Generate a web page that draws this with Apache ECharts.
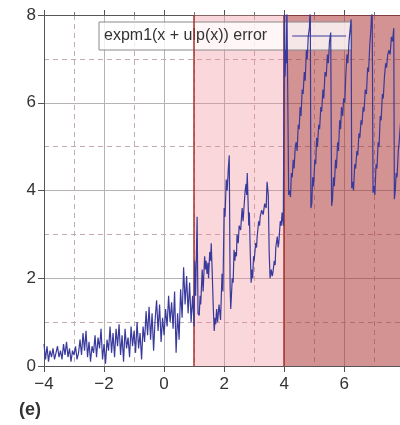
<!DOCTYPE html>
<html>
<head>
<meta charset="utf-8">
<script src="https://cdn.jsdelivr.net/npm/echarts@6/dist/echarts.min.js"></script>
<style>
  html, body { margin: 0; padding: 0; background: #fff; overflow: hidden; width: 400px; height: 425px; }
  #chart { width: 412px; height: 425px; }
</style>
</head>
<body>
<div id="chart"></div>
<script>
// error curve as [x, error] pairs
var lowPart = [
  [-4.00,0.50],[-3.95,0.15],[-3.90,0.45],[-3.85,0.10],[-3.80,0.35],[-3.75,0.20],[-3.70,0.40],[-3.65,0.15],
  [-3.60,0.30],[-3.55,0.45],[-3.50,0.20],[-3.45,0.35],[-3.40,0.15],[-3.35,0.50],[-3.30,0.25],[-3.25,0.55],
  [-3.20,0.20],[-3.15,0.40],[-3.10,0.10],[-3.05,0.35],[-3.00,0.25],[-2.95,0.45],[-2.90,0.15],[-2.85,0.30],
  [-2.80,0.60],[-2.75,0.25],[-2.70,0.75],[-2.65,0.35],[-2.60,0.80],[-2.55,0.20],[-2.50,0.55],[-2.45,0.10],
  [-2.40,0.45],[-2.35,0.30],[-2.30,0.70],[-2.25,0.20],[-2.20,0.65],[-2.15,0.40],[-2.10,0.85],[-2.05,0.15],
  [-2.00,0.50],[-1.95,0.05],[-1.90,0.60],[-1.85,0.35],[-1.80,0.90],[-1.75,0.30],[-1.70,0.75],[-1.65,0.20],
  [-1.60,0.85],[-1.55,0.45],[-1.50,0.95],[-1.45,0.25],[-1.40,0.70],[-1.35,0.10],[-1.30,0.85],[-1.25,0.40],
  [-1.20,0.65],[-1.15,0.20],[-1.10,0.90],[-1.05,0.45],[-1.00,0.80],[-0.95,0.30],[-0.90,1.00],[-0.85,0.40],
  [-0.80,0.75],[-0.75,0.15],[-0.70,0.90],[-0.65,0.55],[-0.60,1.25],[-0.55,0.70],[-0.50,1.35],[-0.45,0.60],
  [-0.40,1.20],[-0.35,0.35],[-0.30,1.05],[-0.25,1.50],[-0.20,0.80],[-0.15,1.40],[-0.10,0.55],[-0.05,1.10],
  [0.00,0.70],[0.05,1.30],[0.10,0.90],[0.15,1.60],[0.20,1.00],[0.25,1.45],[0.30,0.85],[0.35,1.70],
  [0.40,0.30],[0.45,1.20],[0.50,0.60],[0.55,1.75],[0.60,1.10],[0.65,2.25],[0.70,1.40],[0.75,2.05],
  [0.80,1.20],[0.85,1.90],[0.90,1.00],[0.95,1.60],[1.00,0.90]
];
var midPart = [
  [1.02,2.4],[1.05,1.6],[1.10,3.4],[1.13,1.2],[1.17,1.15],[1.20,1.6],[1.22,1.4],[1.27,2.2],[1.30,1.7],
  [1.35,2.5],[1.38,2.2],[1.40,2.4],[1.43,2.1],[1.46,2.35],[1.48,2.0],[1.52,2.6],[1.55,2.4],[1.57,2.8],
  [1.60,2.2],[1.64,1.3],[1.67,0.8],[1.70,1.1],[1.72,0.95],[1.75,1.3],[1.78,1.0],[1.83,1.4],[1.88,1.05],
  [1.93,2.1],[1.96,1.7],[2.00,3.6],[2.03,3.4],[2.07,4.25],[2.10,4.0],[2.14,4.5],[2.17,4.8],[2.20,1.8],
  [2.22,1.3],[2.25,1.7],[2.27,2.0],[2.30,1.9],[2.33,2.65],[2.36,2.4],[2.38,2.6],[2.41,2.5],[2.43,3.0],
  [2.47,2.8],[2.50,3.2],[2.55,3.1],[2.58,3.4],[2.60,3.6],[2.63,3.3],[2.65,3.5],[2.70,4.0],[2.73,4.15],
  [2.75,3.9],[2.77,4.4],[2.82,3.2],[2.84,3.5],[2.87,2.6],[2.90,1.9],[2.93,2.2],[2.95,2.0],[2.98,2.5],
  [3.00,2.4],[3.05,2.8],[3.08,2.7],[3.10,2.95],[3.15,3.3],[3.18,3.2],[3.20,3.4],[3.25,3.55],[3.30,3.45],
  [3.35,3.7],[3.40,3.6],[3.43,4.2],[3.47,3.9],[3.50,2.6],[3.53,2.0],[3.57,2.2],[3.60,2.05],[3.62,2.1],
  [3.67,2.4],[3.70,2.3],[3.72,2.7],[3.77,2.95],[3.80,2.7],[3.82,2.8],[3.87,3.3],[3.90,3.2],[3.93,3.5],
  [3.97,3.2],[4.00,3.2]
];
var highPart = [
  [4.01,8.3],[4.03,6.6],[4.05,7.2],[4.07,6.9],[4.09,8.3],[4.13,8.3],[4.15,3.9],[4.18,4.0],[4.21,3.85],
  [4.24,4.4],[4.27,4.3],[4.30,4.7],[4.33,4.5],[4.37,5.0],[4.40,5.1],[4.43,4.9],[4.47,5.5],[4.50,5.4],
  [4.53,5.9],[4.56,5.7],[4.60,6.3],[4.63,6.2],[4.67,6.7],[4.70,6.5],[4.74,7.2],[4.77,7.0],[4.80,7.5],
  [4.84,7.7],[4.87,8.3],[4.89,3.6],
  [4.92,3.7],[4.95,4.3],[4.98,4.1],[5.02,4.7],[5.05,4.6],[5.08,5.2],[5.11,5.0],[5.15,5.5],[5.18,5.4],
  [5.22,5.9],[5.25,5.8],[5.29,6.3],[5.32,6.1],[5.36,6.7],[5.40,6.6],[5.44,7.1],[5.47,6.9],[5.51,7.4],
  [5.55,7.6],[5.58,3.65],
  [5.61,3.8],[5.64,4.3],[5.67,4.1],[5.71,4.7],[5.74,4.5],[5.78,5.1],[5.81,4.9],[5.85,5.6],[5.88,5.4],
  [5.91,5.9],[5.95,5.7],[5.98,6.1],[6.02,6.0],[6.05,6.6],[6.09,7.1],[6.12,6.9],[6.16,7.4],[6.20,7.7],
  [6.23,7.9],[6.25,4.05],
  [6.28,4.2],[6.31,4.0],[6.35,4.6],[6.38,4.5],[6.42,4.9],[6.45,4.8],[6.49,5.3],[6.52,5.2],[6.56,5.6],
  [6.59,5.5],[6.63,5.9],[6.66,5.8],[6.70,6.3],[6.74,6.2],[6.78,6.8],[6.81,6.7],[6.85,7.3],[6.89,7.7],
  [6.93,8.3],[6.96,3.95],
  [6.99,4.1],[7.02,3.9],[7.06,4.6],[7.09,4.5],[7.13,5.1],[7.16,5.0],[7.20,5.7],[7.23,5.6],[7.27,6.2],
  [7.30,6.1],[7.34,6.6],[7.38,6.9],[7.41,6.8],[7.45,7.1],[7.49,7.2],[7.53,7.1],[7.57,7.5],[7.61,7.4],
  [7.65,7.7],[7.67,3.8],
  [7.70,4.0],[7.73,4.4],[7.76,4.3],[7.80,4.9],[7.83,5.1],[7.87,5.5],[7.90,5.7],[7.94,6.1],[7.97,6.0],
  [8.00,6.4]
];
var seriesName = 'expm1(x + ulp(x)) error';
var lightBand = [1, 4];
var darkBand = [4, 8];
var xRange = [-4, 8];
var yRange = [0, 8];

var chart = echarts.init(document.getElementById('chart'));
var font = 'Liberation Sans, Arial, sans-serif';
var minus = function (v) { return String(v).replace('-', '\u2212'); };

var option = {
  animation: false,
  title: {
    text: '(e)', left: 14, top: 396,
    textStyle: { fontFamily: font, fontSize: 18, fontWeight: 'bold', color: '#333' }
  },
  legend: {
    data: [seriesName],
    left: 99, top: 22,
    align: 'right',
    itemWidth: 54, itemHeight: 14,
    padding: [6, 5, 6, 5],
    backgroundColor: 'rgba(255,255,255,0.78)',
    borderColor: '#8a8a8a', borderWidth: 1, borderRadius: 0,
    itemStyle: { opacity: 0 },
    lineStyle: { color: '#3a3a9c', width: 1 },
    textStyle: { fontFamily: font, fontSize: 16, color: '#333', padding: [0, 20, 0, 0] }
  },
  grid: { left: 44, top: 15, right: 6, bottom: 59 },
  xAxis: [{
    type: 'value', min: xRange[0], max: xRange[1], interval: 2,
    axisLine: { show: true, onZero: false, lineStyle: { color: '#555', width: 1 } },
    axisTick: { show: true, length: 6, lineStyle: { color: '#555' } },
    axisLabel: { fontFamily: font, fontSize: 17, color: '#333', margin: 10, formatter: minus },
    splitLine: { show: true, lineStyle: { color: '#b4b4b4', width: 1 } },
    minorTick: { show: false, splitNumber: 2 },
    minorSplitLine: { show: true, lineStyle: { color: '#c4acac', type: [5, 4], width: 1 } }
  }, {
    type: 'value', position: 'top', min: xRange[0], max: xRange[1], interval: 2,
    axisLine: { show: true, onZero: false, lineStyle: { color: '#555', width: 1 } },
    axisTick: { show: true, length: 5, lineStyle: { color: '#555' } },
    minorTick: { show: true, splitNumber: 2, length: 3, lineStyle: { color: '#777' } },
    axisLabel: { show: false },
    splitLine: { show: false }
  }],
  yAxis: {
    type: 'value', min: yRange[0], max: yRange[1], interval: 2,
    axisLine: { show: true, onZero: false, lineStyle: { color: '#555', width: 1 } },
    axisTick: { show: true, length: 6, lineStyle: { color: '#555' } },
    axisLabel: { fontFamily: font, fontSize: 17, color: '#333', margin: 8 },
    splitLine: { show: true, lineStyle: { color: '#b4b4b4', width: 1 } },
    minorTick: { show: false, splitNumber: 2 },
    minorSplitLine: { show: true, lineStyle: { color: '#c4acac', type: [5, 4], width: 1 } }
  },
  series: [{
    name: seriesName,
    type: 'line',
    xAxisIndex: 0,
    data: lowPart.concat(midPart, highPart),
    symbol: 'none',
    clip: true,
    lineStyle: { color: '#3a3a9c', width: 1.2 },
    itemStyle: { color: '#3a3a9c' },
    z: 5,
    markArea: {
      silent: true,
      data: [
        [{ xAxis: lightBand[0], itemStyle: { color: 'rgba(240,130,140,0.32)' } }, { xAxis: lightBand[1] }],
        [{ xAxis: darkBand[0], itemStyle: { color: 'rgba(168,40,40,0.5)' } }, { xAxis: darkBand[1] }]
      ]
    },
    markLine: {
      silent: true,
      symbol: 'none',
      label: { show: false },
      lineStyle: { color: '#a8322a', width: 1.5, type: 'solid' },
      data: [{ xAxis: lightBand[0] }, { xAxis: darkBand[0] }]
    }
  }]
};
chart.setOption(option);
</script>
</body>
</html>
